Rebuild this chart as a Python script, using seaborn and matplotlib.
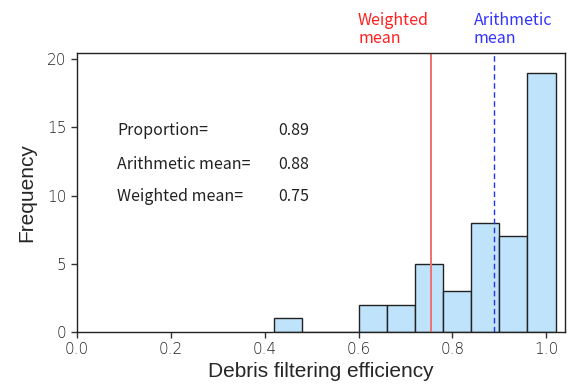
import matplotlib
matplotlib.use("Agg")
import matplotlib.pyplot as plt
import seaborn as sns
import numpy as np
import pandas as pd

# Data
bin_edges = [0.42, 0.48, 0.54, 0.60, 0.66, 0.72, 0.78, 0.84, 0.90, 0.96, 1.02]
bin_counts = [1, 0, 0, 2, 2, 5, 3, 8, 7, 19]
weighted_mean = 0.755
arithmetic_mean = 0.889
stat_labels = ["Proportion=", "Arithmetic mean=", "Weighted mean="]
stat_values = ["0.89", "0.88", "0.75"]

centers = [(a + b) / 2 for a, b in zip(bin_edges[:-1], bin_edges[1:])]
df = pd.DataFrame({"efficiency": centers, "count": bin_counts})

sns.set_style("ticks")
plt.rcParams['font.family'] = ['Noto Sans CJK KR', 'DejaVu Sans']

fig = plt.figure(figsize=(5.68, 3.87), dpi=100)
ax = fig.add_axes([0.1356, 0.1421, 0.8591, 0.7209])

sns.histplot(data=df, x="efficiency", weights="count", bins=bin_edges,
             color="#BEE3FA", edgecolor="#222222", linewidth=1.0, alpha=1.0, ax=ax)

ax.axvline(weighted_mean, color="#F07070", linewidth=1.4)
ax.axvline(arithmetic_mean, color="#2233EE", linewidth=1.0, linestyle=(0, (4, 2.5)))

ax.set_xlim(0, 1.04)
ax.set_ylim(0, 20.44)
ax.set_xticks([0.0, 0.2, 0.4, 0.6, 0.8, 1.0])
ax.set_xticklabels(["0.0", "0.2", "0.4", "0.6", "0.8", "1.0"])
ax.set_yticks([0, 5, 10, 15, 20])
ax.tick_params(labelsize=11, colors="#333333", length=4, width=1, labelcolor="#222222")
for lab in ax.get_xticklabels() + ax.get_yticklabels():
    lab.set_family(["DejaVu Sans"])
    lab.set_fontweight("light")
for s in ax.spines.values():
    s.set_visible(True)
    s.set_color("#222222")
    s.set_linewidth(1.0)

ax.set_xlabel("Debris filtering efficiency", fontsize=15, labelpad=3,
              family=["Liberation Sans"])
ax.set_ylabel("Frequency", fontsize=15, labelpad=8, family=["Liberation Sans"])

# mean labels above the plot
ax.text(0.599, 1.022, "Weighted\nmean", transform=ax.get_xaxis_transform(),
        color="#FF2020", fontsize=11.5, va="bottom", ha="left", linespacing=1.1)
ax.text(0.846, 1.022, "Arithmetic\nmean", transform=ax.get_xaxis_transform(),
        color="#3333FF", fontsize=11.5, va="bottom", ha="left", linespacing=1.1)

ys = [14.8, 12.25, 9.9]
for lab, val, y in zip(stat_labels, stat_values, ys):
    ax.text(0.086, y, lab, fontsize=11.5, color="#222222", va="center", ha="left")
    ax.text(0.428, y, val, fontsize=11.5, color="#222222", va="center", ha="left")

fig.savefig("out.png", dpi=100)
